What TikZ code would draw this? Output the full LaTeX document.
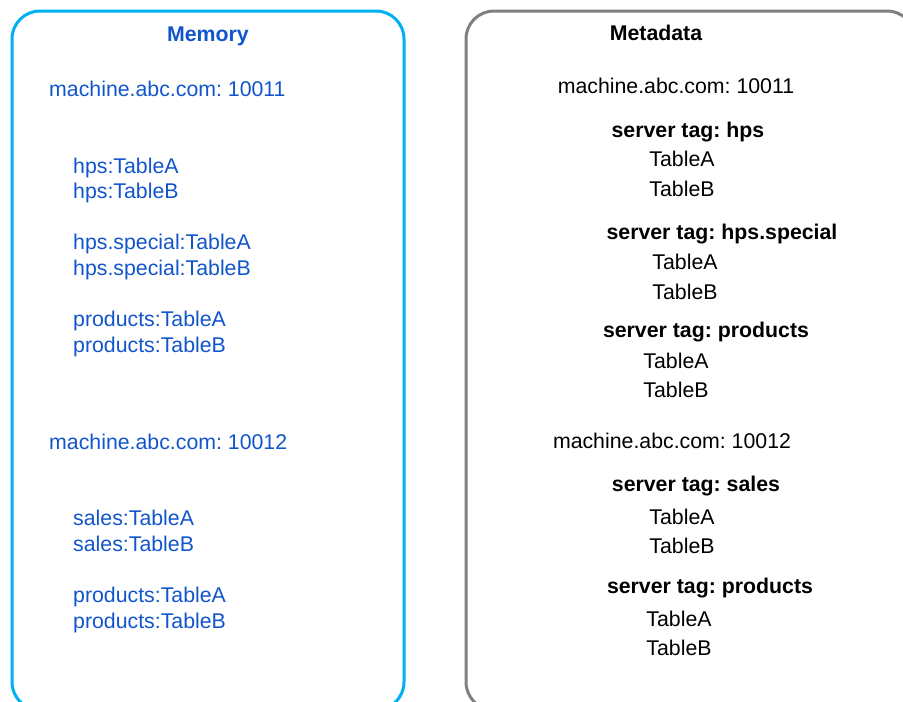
\documentclass[tikz,border=0pt]{standalone}
\usepackage{fontspec}
\setmainfont{Liberation Sans}
\definecolor{memblue}{RGB}{17,85,204}
\definecolor{boxblue}{RGB}{0,176,240}
\definecolor{boxgray}{RGB}{128,128,128}
\begin{document}
\frenchspacing
\begin{tikzpicture}[x=1pt, y=-1pt, font=\fontsize{21.3}{25}\selectfont,
  every node/.style={inner sep=0pt},
  mem/.style={text=memblue, anchor=base west},
  meta/.style={anchor=base},
  tag/.style={anchor=base, font=\fontsize{21.3}{25}\selectfont\bfseries},
  panel/.style={line width=3pt, rounded corners=28pt}]
  \useasboundingbox (0,0) rectangle (903,702);
  \clip (0,0) rectangle (903,702);
  % the two panels
  \draw[panel, boxblue] (12,11) rectangle (404,710);
  \draw[panel, boxgray] (466,11) rectangle (915,710);
  % memory side
  \node[anchor=base, text=memblue, font=\fontsize{21.3}{25}\selectfont\bfseries] (memtitle) at (208,41) {Memory};
  \node[mem] (memhostA) at (49,96) {machine.abc.com: 10011};
  \node[mem] (memhostB) at (49,449) {machine.abc.com: 10012};
  \foreach \y/\t [count=\i] in {173/hps:TableA, 198/hps:TableB, 249/hps.special:TableA, 275/hps.special:TableB,
      326/products:TableA, 352/products:TableB, 525/sales:TableA, 551/sales:TableB,
      602/products:TableA, 628/products:TableB} {
    \node[mem] (mem\i) at (73,\y) {\t};
  }
  % metadata side
  \node[tag] (metatitle) at (656,40) {Metadata};
  \node[meta] (metahostA) at (676,93) {machine.abc.com: 10011};
  \node[meta] (metahostB) at (672,448) {machine.abc.com: 10012};
  \foreach \x/\y/\t [count=\i] in {688/137/hps, 722/239/hps.special, 706/337/products,
      696/491/sales, 710/593/products} {
    \node[tag] (tag\i) at (\x,\y) {server tag: \t};
  }
  \foreach \x/\y/\t [count=\i] in {682/166/TableA, 682/196/TableB, 685/269/TableA, 685/299/TableB,
      676/368/TableA, 676/397/TableB, 682/524/TableA, 682/553/TableB,
      679/626/TableA, 679/655/TableB} {
    \node[meta] (tbl\i) at (\x,\y) {\t};
  }
\end{tikzpicture}
\end{document}
